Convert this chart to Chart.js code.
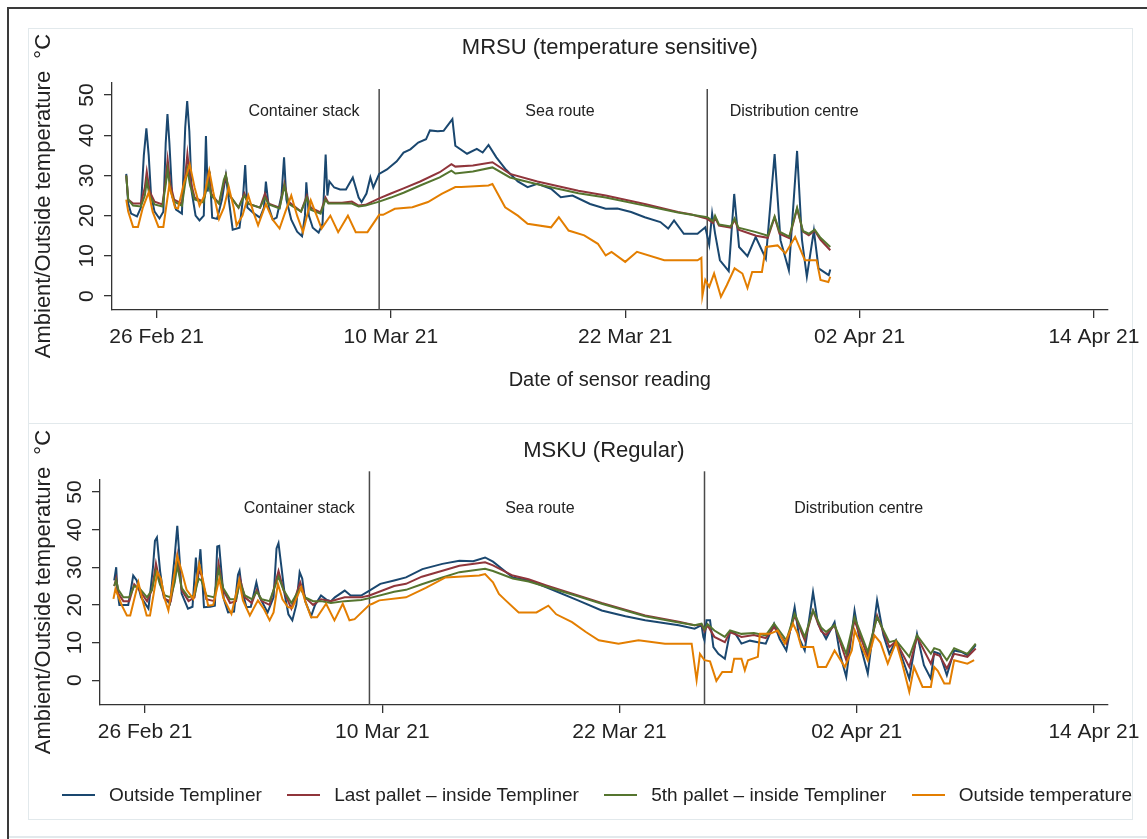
<!DOCTYPE html>
<html>
<head>
<meta charset="utf-8">
<script src="https://cdn.jsdelivr.net/npm/chart.js@4.4.1/dist/chart.umd.min.js"></script>
<style>
  body { margin: 0; background: #fff; }
  #frame { position: relative; width: 1147px; height: 839px; overflow: hidden; background: #fff; }
  .line { position: absolute; }
  canvas { position: absolute; left: 0; }
  #legend { position: absolute; left: 62px; top: 782px; width: 1070px; height: 26px; display: flex; align-items: center;
            justify-content: space-between; font: 19px "Liberation Sans", Arial, sans-serif; color: #222; white-space: nowrap; }
  #legend .item { display: flex; align-items: center; }
  #legend .swatch { width: 33px; height: 2px; margin-right: 14px; }
</style>
</head>
<body>
<div id="frame">
  <div class="line" style="left:7px;top:7px;width:1200px;height:840px;border-left:2px solid #3a3a3a;border-top:2px solid #3a3a3a"></div>
  <div class="line" style="left:28px;top:28px;width:1103px;height:394px;border:1px solid #e2e9ec"></div>
  <div class="line" style="left:28px;top:423px;width:1103px;height:396px;border:1px solid #e2e9ec;border-top:none"></div>
  <div class="line" style="left:9px;top:836px;width:1140px;height:0;border-top:2px solid #e2e9ec"></div>
  <canvas id="mrsu" width="1147" height="423" style="top:0"></canvas>
  <canvas id="msku" width="1147" height="416" style="top:423px"></canvas>
  <div id="legend"></div>
</div>
<script>
const dayTicks = [0, 12, 24, 36, 48];
const dateLabels = ['26 Feb 21', '10 Mar 21', '22 Mar 21', '02 Apr 21', '14 Apr 21'];
const tempTicks = [0, 10, 20, 30, 40, 50];
const seriesNames = ['Outside Templiner', 'Last pallet \u2013 inside Templiner', '5th pallet \u2013 inside Templiner', 'Outside temperature'];
const seriesColors = ['#1a476f', '#90353b', '#55752f', '#e37e00'];
const phaseNames = ['Container stack', 'Sea route', 'Distribution centre'];

// MRSU (temperature sensitive) - [day since 26 Feb, degC]
const mrsuPhaseEnds = [11.4, 28.2];
const mrsuLabelDays = [7.55, 20.66, 32.65];
const mrsuOutsideTempliner = [
  [-1.55,30.4],[-1.45,23],[-1.3,20.5],[-1.0,19.8],[-0.8,22],[-0.65,35],[-0.52,41.7],[-0.4,35],[-0.28,25],[-0.1,21],
  [0.15,19.3],[0.35,21],[0.47,38],[0.56,45.3],[0.66,38],[0.8,25],[1.0,21.5],[1.3,20.5],[1.47,42],[1.57,48.5],
  [1.68,41],[1.8,26],[2.0,20],[2.2,18.8],[2.42,20],[2.53,39.8],[2.62,26],[2.72,31],[2.85,19.5],[3.1,19.2],
  [3.35,24],[3.55,30],[3.7,24],[3.9,16.5],[4.25,17],[4.42,24],[4.54,32.6],[4.65,22],[5.0,20.5],[5.3,19.5],
  [5.5,22],[5.6,28.5],[5.75,22],[5.95,19],[6.15,19.5],[6.4,25],[6.53,34.5],[6.65,24],[6.9,19],[7.2,16],
  [7.45,14.9],[7.6,20],[7.67,28.3],[7.8,20],[8.0,17],[8.3,15.8],[8.5,18],[8.66,35.2],[8.75,25],[8.85,28.5],
  [9.1,27],[9.4,26.5],[9.7,26.5],[10.05,29.5],[10.35,24.5],[10.5,23.4],[10.75,25.5],[10.95,29.5],[11.1,27],[11.4,30.4],
  [11.8,31.5],[12.3,33.5],[12.65,35.7],[13.0,36.5],[13.4,38.2],[13.8,39],[14.0,41.2],[14.4,41],[14.7,41.1],[15.15,44],
  [15.3,37.4],[15.9,35.4],[16.4,36.6],[16.7,35.7],[17.0,37.6],[17.4,34.5],[17.9,31.4],[18.5,28.5],[19.0,27.1],[19.5,27.9],
  [20.2,26.7],[20.7,24.6],[21.3,25],[22.2,22.9],[23.0,21.7],[23.6,21.8],[24.3,20.9],[25.0,19.6],[25.8,18.4],[26.2,16.8],
  [26.5,18.8],[27.0,15.5],[27.7,15.5],[28.1,17.1],[28.3,12.8],[28.45,20.5],[28.6,15.6],[28.85,8.9],[29.3,6.2],[29.58,25.4],
  [29.83,12.2],[30.26,9.9],[30.68,14.7],[31.2,9.3],[31.65,35.3],[31.95,13.9],[32.38,6.4],[32.8,36.1],[33.05,14],[33.3,4.8],
  [33.66,16.3],[33.9,6.9],[34.42,5.2],[34.5,6.6]
];
const mrsuLastPallet = [
  [-1.55,30],[-1.45,24],[-1.2,23],[-0.8,23],[-0.6,27],[-0.5,31],[-0.35,26],[-0.1,23.5],[0.3,22.8],[0.45,28],
  [0.57,34],[0.7,28],[0.9,24],[1.3,23],[1.45,29],[1.58,35.4],[1.72,29],[1.95,24.5],[2.4,23.5],[2.55,27],
  [2.65,30],[2.8,25.5],[3.2,23],[3.45,28],[3.55,30],[3.75,25],[4.2,22],[4.5,25.5],[4.7,23],[5.3,22],
  [5.55,25.5],[5.75,23],[6.3,22],[6.55,28],[6.75,23.5],[7.4,21],[7.7,25],[7.9,22],[8.4,20.8],[8.65,24.5],
  [8.8,23.2],[9.5,23.2],[10.0,23.5],[10.35,22.5],[10.7,22.7],[11.4,24.3],[12.0,25.5],[12.65,26.8],[13.5,28.5],[14.5,30.8],
  [15.1,32.8],[15.3,32.2],[16.2,32.5],[17.2,33.3],[18.1,30.4],[19.5,28.5],[21.6,26.2],[23.0,25],[25.0,22.9],[26.7,20.9],
  [27.4,20.3],[28.2,19.2],[28.5,18.2],[28.6,19.5],[28.8,17.5],[29.4,17],[29.6,19],[29.8,16.5],[30.7,15],[31.3,14.5],
  [31.65,19.6],[31.9,15.5],[32.4,14.4],[32.8,21.7],[33.1,16],[33.4,15.1],[33.7,16.3],[34.0,14],[34.5,11.4]
];
const mrsuFifthPallet = [
  [-1.55,30],[-1.45,24],[-1.2,22.5],[-0.8,22.3],[-0.6,25],[-0.5,28.5],[-0.35,25],[-0.1,22.8],[0.3,22.3],[0.45,27],
  [0.57,31.5],[0.7,26.5],[0.9,23.5],[1.3,22.5],[1.45,27.5],[1.58,31.5],[1.72,27.5],[1.95,24],[2.4,23.3],[2.55,26.5],
  [2.65,28.5],[2.8,25],[3.2,23],[3.45,29],[3.55,30.2],[3.75,25],[4.2,22],[4.5,25],[4.7,23],[5.3,22],
  [5.55,24.5],[5.75,22.8],[6.3,21.8],[6.55,27.5],[6.75,23],[7.4,21],[7.7,24.5],[7.9,21.5],[8.4,20.5],[8.65,24],
  [8.8,23],[9.5,23],[10.0,23],[10.35,22.3],[10.7,22.5],[11.4,23.5],[12.0,24.5],[12.65,25.7],[13.5,27.5],[14.5,29.5],
  [15.1,31.2],[15.3,30.5],[16.2,31],[17.2,32],[18.1,29.5],[19.5,27.8],[21.6,25.6],[23.0,24.5],[25.0,22.5],[26.7,20.8],
  [27.4,20.2],[28.2,19.6],[28.5,18.6],[28.6,20],[28.8,17.8],[29.4,17.3],[29.6,19.3],[29.8,17],[30.7,15.9],[31.3,15],
  [31.65,19.8],[31.9,16],[32.4,14.8],[32.8,22],[33.1,16.2],[33.4,15.5],[33.7,16.5],[34.0,14.5],[34.5,12.2]
];
const mrsuOutsideTemp = [
  [-1.55,24],[-1.45,21],[-1.2,17.2],[-0.95,17.2],[-0.7,22],[-0.4,25.8],[-0.2,21],[0.1,17.2],[0.35,17.2],[0.65,27.5],
  [0.95,22],[1.1,21.8],[1.4,28],[1.7,32.8],[1.95,27],[2.2,22.5],[2.45,25],[2.7,31.2],[2.9,26],[3.2,19.2],
  [3.45,22],[3.7,27.1],[3.95,22],[4.1,17.6],[4.4,20],[4.7,25],[4.95,21],[5.2,17.6],[5.6,22.9],[5.95,19],
  [6.3,16.8],[6.6,21],[6.9,25],[7.2,20],[7.5,15.9],[7.9,23.8],[8.2,20],[8.45,16.8],[8.9,20],[9.3,15.9],
  [9.8,20],[10.2,15.9],[10.8,15.9],[11.4,20.2],[11.6,20.2],[12.2,21.7],[13.1,22.1],[13.9,23.4],[14.6,25.4],[15.3,27.1],
  [15.6,27.1],[17.0,27.5],[17.2,27.9],[17.85,22.1],[18.5,20],[19.0,18],[20.2,17.1],[20.6,19.6],[21.1,16.3],[21.9,15.1],
  [22.6,13],[23.0,10.1],[23.3,11],[24.0,8.5],[24.6,11],[26.0,8.9],[27.7,8.9],[27.9,9.5],[27.95,0],[28.1,4],
  [28.3,2.3],[28.55,5.6],[28.9,-0.2],[29.2,2.7],[29.6,6.9],[30.0,5.6],[30.26,2],[30.5,6],[31.0,6],[31.2,12.2],
  [31.8,12.6],[32.2,10.6],[32.7,14.7],[33.2,8.9],[33.8,8.9],[34.0,4],[34.4,3.5],[34.5,4.8]
];

// MSKU (Regular)
const mskuPhaseEnds = [11.35, 28.3];
const mskuLabelDays = [7.8, 19.97, 36.1];
const mskuOutsideTempliner = [
  [-1.56,26.5],[-1.46,30],[-1.4,23.8],[-1.3,20],[-0.85,20],[-0.6,27.8],[-0.42,26.5],[-0.2,22],[0.17,19],[0.4,30],
  [0.5,37],[0.6,37.9],[0.76,29],[0.95,22],[1.26,20.3],[1.5,33],[1.63,41],[1.75,32],[1.85,23],[2.17,19],
  [2.4,19.5],[2.57,32.6],[2.66,26],[2.8,34.8],[2.98,19.4],[3.3,19.5],[3.53,19.8],[3.65,35.5],[3.75,35.7],[3.98,21.6],
  [4.2,18],[4.5,18.2],[4.7,28],[4.78,29.1],[4.9,24],[5.13,19.4],[5.35,19.5],[5.63,26],[5.8,22],[6.2,18],
  [6.5,22],[6.65,35],[6.75,36.4],[6.9,30],[7.06,22.9],[7.25,17.5],[7.45,15.9],[7.65,20],[7.82,28.7],[7.95,27],
  [8.1,21],[8.4,17],[8.6,20],[8.9,22.5],[9.2,21.3],[9.4,21],[9.6,22],[10.1,23.8],[10.4,22.5],[10.93,22.5],
  [11.35,23.8],[11.9,25.6],[12.6,26.5],[13.2,27.3],[14.03,29.5],[15.04,30.9],[15.9,31.7],[16.6,31.6],[17.2,32.6],[17.6,31.5],
  [18.6,27.3],[19.4,26.5],[20.3,24.7],[21.9,21.2],[23.1,18.5],[24.3,17],[25.3,15.9],[27.0,14.6],[27.8,13.7],[28.15,14.6],
  [28.24,11.5],[28.3,10.6],[28.4,15.9],[28.58,15.9],[28.75,8.8],[29.0,7],[29.33,5.7],[29.59,12.8],[29.85,12.5],[30.17,9.7],
  [30.6,10.5],[31.0,10.1],[31.4,9.7],[31.82,15],[32.1,11],[32.44,7.9],[32.86,19.4],[33.1,11],[33.37,7.9],[33.79,23.4],
  [34.04,15],[34.45,11],[34.88,15.4],[35.15,7],[35.47,0.9],[35.89,18.5],[36.2,9],[36.56,1.8],[37.03,21.2],[37.35,12],
  [37.65,7],[37.99,10.6],[38.66,0.4],[39.05,12.3],[39.4,4],[39.75,0.4],[39.92,7.5],[40.2,7],[40.56,1.3],[40.93,7.9],
  [41.3,7.5],[41.6,6.6],[42.02,9.3]
];
const mskuLastPallet = [
  [-1.56,25],[-1.46,27],[-1.35,23],[-1.1,21],[-0.8,21],[-0.55,25.5],[-0.3,24],[0.1,21],[0.35,24],[0.55,31],
  [0.75,26],[1.0,21.5],[1.3,21],[1.5,27],[1.63,33],[1.85,24],[2.2,21],[2.5,22],[2.7,29],[2.85,28],
  [3.1,21.5],[3.5,21],[3.72,31],[3.95,24],[4.3,20.5],[4.6,21],[4.8,27],[5.05,22],[5.4,20.5],[5.65,24],
  [5.9,21],[6.3,20],[6.75,29],[7.0,24],[7.4,19],[7.85,26],[8.1,22],[8.5,20],[8.9,21.5],[9.4,21],
  [10.1,22],[10.93,22],[11.35,22.5],[12.6,25],[13.2,25.6],[14.0,27.5],[15.0,29],[15.9,30.4],[17.2,31.3],[17.6,30.5],
  [18.6,27.8],[19.4,26.8],[20.3,25.2],[21.9,22.5],[23.1,20.5],[25.3,17.2],[27.0,15.5],[27.8,14.6],[28.15,14.8],[28.3,13],
  [28.45,14.6],[28.8,11.5],[29.33,10.1],[29.59,12.8],[30.17,11.5],[30.8,12],[31.4,11.2],[31.82,14.1],[32.44,9.7],[32.86,17.2],
  [33.37,10.6],[33.79,18.5],[34.2,13],[34.45,12],[34.88,14.6],[35.47,5.3],[35.89,15.9],[36.56,6.2],[37.03,17.2],[37.65,8.8],
  [37.99,10.3],[38.66,3.5],[39.05,11.5],[39.75,4.4],[39.92,7],[40.2,6.5],[40.56,3.1],[40.93,7],[41.6,6.2],[42.02,8.4]
];
const mskuFifthPallet = [
  [-1.56,25],[-1.46,26.5],[-1.35,24],[-1.1,22],[-0.8,22],[-0.55,25],[-0.3,24.5],[0.1,22],[0.35,24],[0.55,29],
  [0.75,25.5],[1.0,22.5],[1.3,22],[1.5,26],[1.63,30.5],[1.85,24.5],[2.2,22],[2.5,22.5],[2.7,27],[2.85,26.5],
  [3.1,22.5],[3.5,22],[3.72,29.5],[3.95,24.5],[4.3,21.5],[4.6,21.5],[4.8,26],[5.05,22.5],[5.4,21.5],[5.65,23.5],
  [5.9,21.5],[6.3,21],[6.75,27.5],[7.0,24],[7.4,20.5],[7.85,24.5],[8.1,22],[8.5,21],[8.9,21],[9.4,20.5],
  [10.1,21],[10.93,21.3],[11.35,21.8],[12.6,23.5],[13.2,24],[14.0,25.5],[15.0,27.2],[15.9,28.7],[17.2,29.6],[17.6,29],
  [18.6,27],[19.4,26.2],[20.3,24.8],[21.9,22.3],[23.1,20.3],[25.3,17],[27.0,15.3],[27.8,14.6],[28.15,15],[28.3,13.5],
  [28.45,14.9],[28.8,13.2],[29.33,11.5],[29.59,13.2],[30.17,12.3],[30.8,12.5],[31.4,11.9],[31.82,15],[32.44,10.6],[32.86,17.6],
  [33.37,11.5],[33.79,18.5],[34.2,14],[34.45,12.8],[34.88,14.6],[35.47,7],[35.89,16.7],[36.56,7.5],[37.03,16.7],[37.65,10.1],
  [37.99,10.6],[38.66,6.2],[39.05,11.9],[39.75,7],[39.92,8.5],[40.2,8],[40.56,5.3],[40.93,8.5],[41.6,7],[42.02,9.7]
];
const mskuOutsideTemp = [
  [-1.6,21.6],[-1.5,24.2],[-1.17,19.8],[-0.92,17.2],[-0.75,17.2],[-0.34,26],[-0.15,21.7],[0.08,17.2],[0.25,17.2],[0.62,28.7],
  [0.8,27],[1.0,21.5],[1.18,18.5],[1.63,33],[1.85,29],[2.1,24],[2.44,21.6],[2.74,30.9],[2.95,26],[3.19,19.8],
  [3.45,20],[3.75,26.9],[3.95,22],[4.37,17.6],[4.76,26.5],[4.95,21.2],[5.3,17.2],[5.71,21.2],[6.0,19],[6.3,15.9],
  [6.5,18],[6.72,25.6],[6.95,21.5],[7.23,19.4],[7.45,19.2],[7.9,24.7],[8.1,21],[8.4,16.7],[8.7,16.7],[9.16,20.3],
  [9.58,15.9],[10.0,20.3],[10.34,15.9],[10.6,16.2],[11.35,20],[11.5,20.3],[11.85,21.2],[13.2,22],[14.2,24.5],[15.2,27.3],
  [16.9,27.8],[17.2,28.2],[17.6,26],[17.9,22.9],[18.24,21.2],[18.9,18],[19.8,18],[20.4,19.8],[20.8,17.5],[21.6,15.4],
  [22.3,12.8],[22.95,10.6],[23.95,9.7],[24.96,10.6],[26.3,9.7],[27.65,9.7],[27.9,0],[28.07,7],[28.3,5.3],[28.58,5],
  [28.9,-0.2],[29.2,2.2],[29.67,2.2],[29.8,5.7],[30.17,5.7],[30.34,2.6],[30.5,5.3],[31.0,6.2],[31.1,12.3],[31.6,12.3],
  [32.0,13.2],[32.36,9.7],[32.78,15],[33.0,12.5],[33.2,8.8],[33.8,8.8],[34.04,3.5],[34.45,3.5],[34.88,7.9],[35.4,3.5],
  [35.75,7.9],[35.9,13.2],[36.2,9.5],[36.56,5.3],[36.9,11.9],[37.2,10],[37.57,4.4],[37.99,10.1],[38.3,4.5],[38.66,-3.1],
  [38.9,3.5],[39.33,-1.8],[39.75,-1.8],[39.92,3.5],[40.1,2.5],[40.43,-0.9],[40.7,-0.9],[40.93,5.3],[41.6,4.4],[41.94,5.3]
];

const sans = '"Liberation Sans", Arial, sans-serif';
Chart.defaults.font.family = sans;
Chart.defaults.color = '#222';

// phase boundaries and their names, placed with the chart's own scales
const phasePlugin = {
  id: 'phases',
  beforeDatasetsDraw(chart, args, opts) {
    const {ctx, chartArea} = chart;
    const xs = chart.scales.x, ys = chart.scales.y;
    ctx.save();
    ctx.strokeStyle = '#4a4a4a';
    ctx.lineWidth = 1.5;
    opts.ends.forEach(d => {
      const px = xs.getPixelForValue(d);
      ctx.beginPath();
      ctx.moveTo(px, ys.getPixelForValue(opts.lineTop));
      ctx.lineTo(px, chartArea.bottom);
      ctx.stroke();
    });
    ctx.fillStyle = '#222';
    ctx.font = '16px ' + sans;
    ctx.textAlign = 'center';
    ctx.textBaseline = 'middle';
    phaseNames.forEach((t, i) => {
      ctx.fillText(t, xs.getPixelForValue(opts.labelDays[i]), ys.getPixelForValue(opts.labelTemp));
    });
    ctx.restore();
  }
};

function makeChart(id, title, series, o) {
  return new Chart(document.getElementById(id), {
    type: 'line',
    data: {
      datasets: series.map((pts, i) => ({
        label: seriesNames[i],
        data: pts.map(p => ({x: p[0], y: p[1]})),
        borderColor: seriesColors[i],
        backgroundColor: seriesColors[i],
        borderWidth: 2,
        pointRadius: 0,
        tension: 0,
        order: 3 - i
      }))
    },
    options: {
      responsive: false,
      animation: false,
      events: [],
      layout: {padding: {left: 0, right: 36, top: 0, bottom: o.padBottom}},
      plugins: {
        title: {display: true, text: title, fullSize: false, color: '#222',
                font: {size: 22, weight: 'normal'}, padding: o.titlePad},
        legend: {display: false},
        tooltip: {enabled: false},
        phases: {ends: o.ends, labelDays: o.labelDays, labelTemp: o.labelTemp, lineTop: o.lineTop}
      },
      scales: {
        x: {
          type: 'linear', min: -2.28, max: 48.7,
          afterBuildTicks: s => { s.ticks = dayTicks.map(v => ({value: v})); },
          afterFit: s => { s.height = o.xHeight; },
          ticks: {autoSkip: false, maxRotation: 0, padding: 7, color: '#222', font: {size: 21},
                  callback: v => dateLabels[dayTicks.indexOf(v)]},
          grid: {drawOnChartArea: false, tickLength: 8, color: '#333', lineWidth: 1.3},
          border: {color: '#333', width: 1.3},
          title: o.xTitle
        },
        y: {
          type: 'linear', min: o.yMin, max: o.yMax,
          afterBuildTicks: s => { s.ticks = tempTicks.map(v => ({value: v})); },
          afterFit: s => { s.width = o.yWidth; },
          ticks: {minRotation: 90, maxRotation: 90, crossAlign: 'center', padding: 5, color: '#222', font: {size: 21}},
          grid: {drawOnChartArea: false, tickLength: 8, color: '#333', lineWidth: 1.3},
          border: {color: '#333', width: 1.3},
          title: {display: true, text: 'Ambient/Outside temperature  \u00b0C', color: '#222',
                  font: {size: 22}, padding: {top: 31, bottom: 0}}
        }
      }
    },
    plugins: [phasePlugin]
  });
}

const mrsuChart = makeChart('mrsu', 'MRSU (temperature sensitive)',
  [mrsuOutsideTempliner, mrsuLastPallet, mrsuFifthPallet, mrsuOutsideTemp], {
    padBottom: 23, titlePad: {top: 34.4, bottom: 21.4}, xHeight: 90, yWidth: 112,
    yMin: -3.47, yMax: 53.2, ends: mrsuPhaseEnds, labelDays: mrsuLabelDays, labelTemp: 46, lineTop: 51.5,
    xTitle: {display: true, text: 'Date of sensor reading', color: '#222', font: {size: 20}, padding: {top: 0, bottom: 8}}
  });

const mskuChart = makeChart('msku', 'MSKU (Regular)',
  [mskuOutsideTempliner, mskuLastPallet, mskuFifthPallet, mskuOutsideTemp], {
    padBottom: 84, titlePad: {top: 14.4, bottom: 15.4}, xHeight: 50, yWidth: 100,
    yMin: -6.6, yMax: 53.4, ends: mskuPhaseEnds, labelDays: mskuLabelDays, labelTemp: 45.5, lineTop: 55.5,
    xTitle: {display: false}
  });

// shared legend built from the library's legend items
const legendEl = document.getElementById('legend');
Chart.defaults.plugins.legend.labels.generateLabels(mskuChart)
  .sort((a, b) => a.datasetIndex - b.datasetIndex)
  .forEach(item => {
    const el = document.createElement('div');
    el.className = 'item';
    const sw = document.createElement('span');
    sw.className = 'swatch';
    sw.style.background = item.strokeStyle;
    const tx = document.createElement('span');
    tx.textContent = item.text;
    el.appendChild(sw);
    el.appendChild(tx);
    legendEl.appendChild(el);
  });
</script>
</body>
</html>
